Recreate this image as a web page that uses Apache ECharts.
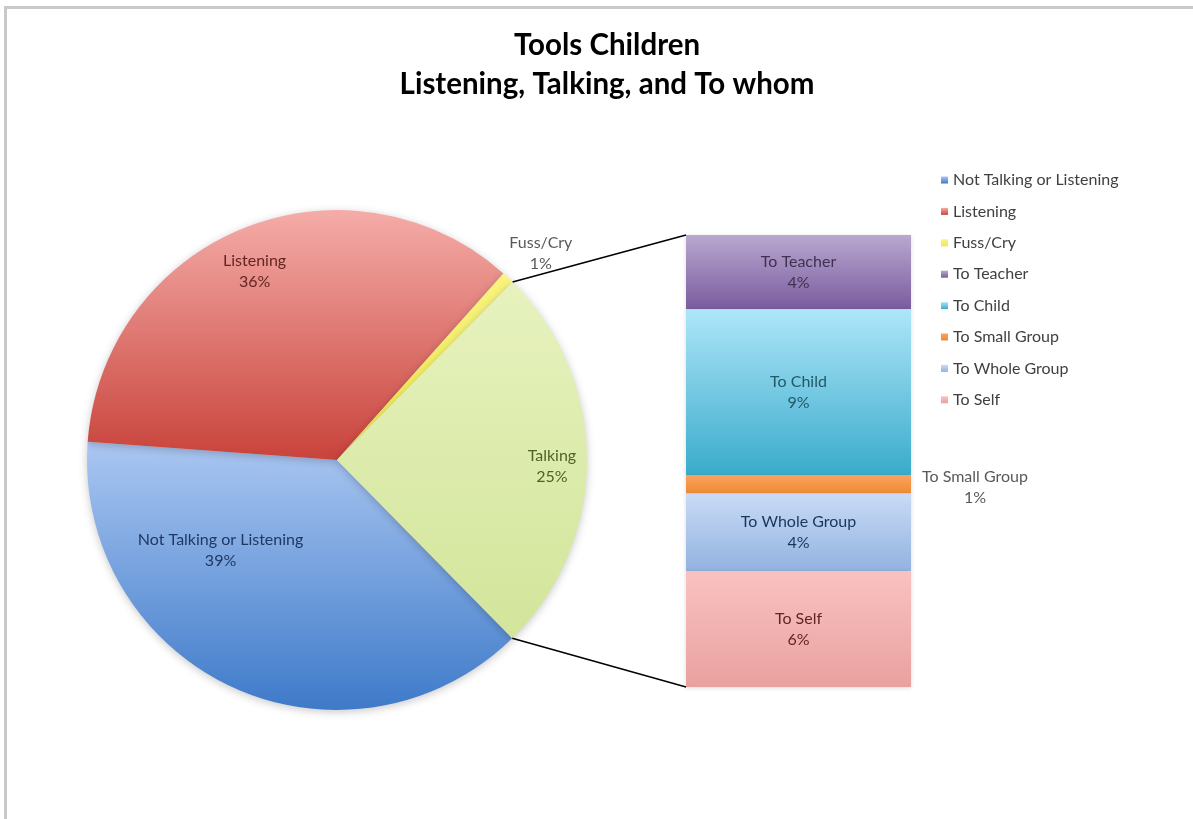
<!DOCTYPE html>
<html><head><meta charset="utf-8">
<script src="https://cdn.jsdelivr.net/npm/echarts@6/dist/echarts.min.js"></script>
<style>html,body{margin:0;padding:0;background:#fff}#c{width:1193px;height:819px}</style>
</head><body><div id="c"></div>
<script>
// ---- data ----
const pieNames = ['Not Talking or Listening', 'Listening', 'Fuss/Cry', 'Talking'];
const pieValues = [38.6, 35.5, 0.8, 25.3];
const barCategory = ['Talking'];
const barNames = ['To Teacher', 'To Child', 'To Small Group', 'To Whole Group', 'To Self'];
const barValues = [4.1, 9.2, 1.0, 4.3, 6.4];
const legendNames = ['Not Talking or Listening', 'Listening', 'Fuss/Cry', 'To Teacher', 'To Child', 'To Small Group', 'To Whole Group', 'To Self'];
const titleText = 'Tools Children\nListening, Talking, and To whom';

// ---- style ----
const FONT = 'Lato';
const LABEL_SIZE = 16;
const pieCenter = [337, 460], pieRadius = 250, pieStart = -45.5;
function grad(c1, c2) {
  return new echarts.graphic.LinearGradient(0, 0, 0, 1, [{offset: 0, color: c1}, {offset: 1, color: c2}]);
}
const pieColors = [grad('#abc7f2', '#3e7ac9'), grad('#f5aca8', '#c8433b'), grad('#f9f57e', '#efe84e'), grad('#e7f2be', '#d2e59a')];
const pieLabelColors = ['#1f3864', '#632523', '#595959', '#4f6228'];
const pieLabelPlace = [[0.59, -27.3], [0.825, 1.5], [1.16, -1.5], [0.86, -1.6]];
const barColors = [grad('#b9a8d0', '#7a5c9e'), grad('#aee6f9', '#3aabcb'), grad('#f9a25c', '#ef8a35'), grad('#c9dbf6', '#92b2df'), grad('#f9c2c1', '#e9a19f')];
const barLabelColors = ['#3f3151', '#215968', '#595959', '#17375e', '#632523'];

const pieTotal = pieValues.reduce((a, b) => a + b, 0);
const barTotal = barValues.reduce((a, b) => a + b, 0);
const pct = v => Math.round(v) + '%';

function pieLabelPos(i) {
  let before = 0;
  for (let k = 0; k < i; k++) before += pieValues[k];
  const mid = pieStart - (before + pieValues[i] / 2) / pieTotal * 360 + pieLabelPlace[i][1];
  const a = mid * Math.PI / 180;
  const r = pieRadius * pieLabelPlace[i][0];
  return [pieCenter[0] + r * Math.cos(a), pieCenter[1] - r * Math.sin(a)];
}

const chart = echarts.init(document.getElementById('c'), null, {renderer: 'canvas'});

const series = [{
  type: 'pie',
  center: pieCenter,
  radius: pieRadius,
  startAngle: pieStart,
  clockwise: true,
  avoidLabelOverlap: false,
  animation: false,
  silent: true,
  itemStyle: {borderWidth: 0, shadowBlur: 8, shadowColor: 'rgba(0,0,0,0.22)', shadowOffsetY: 2},
  label: {
    show: true, position: 'inside', fontFamily: FONT, fontSize: LABEL_SIZE, lineHeight: 21,
    formatter: p => p.name + '\n' + pct(p.value)
  },
  labelLine: {show: false},
  labelLayout: p => {
    const pos = pieLabelPos(p.dataIndex);
    return {x: pos[0], y: pos[1], align: 'center', verticalAlign: 'middle'};
  },
  emphasis: {disabled: true},
  data: pieNames.map((n, i) => ({
    name: n, value: pieValues[i],
    itemStyle: {color: pieColors[i]},
    label: {color: pieLabelColors[i]}
  }))
}];

barNames.forEach((n, i) => {
  const outside = n === 'To Small Group';
  series.push({
    name: n, type: 'bar', stack: 'talk', barWidth: '100%', animation: false, silent: true,
    itemStyle: {color: barColors[i], shadowBlur: 4, shadowColor: 'rgba(0,0,0,0.15)', shadowOffsetY: 1},
    label: outside ? {
      show: true, position: 'right', distance: 0, offset: [64, 3], align: 'center',
      fontFamily: FONT, fontSize: LABEL_SIZE, lineHeight: 21, color: barLabelColors[i],
      formatter: p => p.seriesName + '\n' + pct(p.value)
    } : {
      show: true, position: 'inside', fontFamily: FONT, fontSize: LABEL_SIZE, lineHeight: 21, color: barLabelColors[i],
      formatter: p => p.seriesName + '\n' + pct(p.value)
    },
    data: [barValues[i]]
  });
});

chart.setOption({
  backgroundColor: '#ffffff',
  animation: false,
  title: {
    text: titleText, left: 602, top: 21, textAlign: 'center',
    textStyle: {fontFamily: FONT, fontWeight: 'bold', fontSize: 29.5, lineHeight: 39, color: '#000'}
  },
  legend: {
    orient: 'vertical', left: 936, top: 167, itemWidth: 7, itemHeight: 7, itemGap: 15.4,
    icon: 'rect', selectedMode: false,
    textStyle: {fontFamily: FONT, fontSize: LABEL_SIZE, color: '#404040'},
    data: legendNames
  },
  grid: {left: 686, top: 235, width: 225, height: 452, containLabel: false},
  xAxis: {type: 'category', data: barCategory, show: false},
  yAxis: {type: 'value', min: 0, max: barTotal, inverse: true, show: false},
  series: series
});

// connector lines, computed from pie geometry and bar axes
const grid = chart.getModel().getComponent('grid', 0).coordinateSystem.getRect();
const topY = chart.convertToPixel({xAxisIndex: 0, yAxisIndex: 0}, [0, 0])[1];
const botY = chart.convertToPixel({xAxisIndex: 0, yAxisIndex: 0}, [0, barTotal])[1];
const talkDeg = pieValues[3] / pieTotal * 360;
function piePt(deg) {
  const a = deg * Math.PI / 180;
  return [pieCenter[0] + pieRadius * Math.cos(a), pieCenter[1] - pieRadius * Math.sin(a)];
}
const upper = piePt(pieStart + talkDeg), lower = piePt(pieStart);
chart.setOption({
  graphic: [
    {type: 'rect', shape: {x: 4, y: 6, width: 1189, height: 3}, style: {fill: '#c9c9c9'}, silent: true},
    {type: 'rect', shape: {x: 4, y: 6, width: 3, height: 813}, style: {fill: '#c9c9c9'}, silent: true},
    {type: 'line', shape: {x1: upper[0], y1: upper[1], x2: grid.x, y2: topY}, style: {stroke: '#000', lineWidth: 1.5}, silent: true, z: 10},
    {type: 'line', shape: {x1: lower[0], y1: lower[1], x2: grid.x, y2: botY}, style: {stroke: '#000', lineWidth: 1.5}, silent: true, z: 10}
  ]
});
</script></body></html>
